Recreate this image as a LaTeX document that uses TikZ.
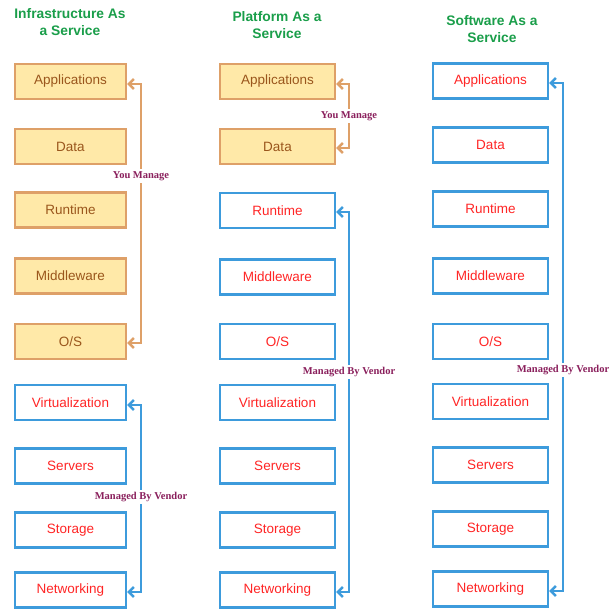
\documentclass[tikz,border=0pt]{standalone}
\usepackage{fontspec}
\setmainfont{Liberation Sans}
\newfontfamily\labelfont{Liberation Serif}
\usetikzlibrary{arrows.meta}
\definecolor{boxfill}{HTML}{FFE9A8}
\definecolor{boxline}{HTML}{DEA068}
\definecolor{boxtext}{HTML}{9A561C}
\definecolor{vblue}{HTML}{3D9BDC}
\definecolor{vred}{HTML}{FF2525}
\definecolor{lblcol}{HTML}{8A1F5C}
\definecolor{ttlgreen}{HTML}{1A9E4A}
\tikzset{
  mine/.style={draw=boxline, fill=boxfill, line width=2.4pt, minimum width=111pt, minimum height=35pt, inner sep=0pt, text=boxtext, font=\fontsize{13.5}{15}\selectfont},
  vend/.style={draw=vblue, fill=white, line width=2.4pt, minimum width=115pt, minimum height=35pt, inner sep=0pt, text=vred, font=\fontsize{13.5}{15}\selectfont},
  ttl/.style={text=ttlgreen, font=\fontsize{13.8}{17}\selectfont\bfseries, align=center},
  lbl/.style={fill=white, text=lblcol, font=\labelfont\fontsize{10.5}{12}\selectfont\bfseries, inner sep=2pt},
  oline/.style={draw=boxline, line width=2.4pt, {Straight Barb[length=5pt,width=10pt]}-{Straight Barb[length=5pt,width=10pt]}},
  bline/.style={draw=vblue, line width=2.4pt, {Straight Barb[length=5pt,width=10pt]}-{Straight Barb[length=5pt,width=10pt]}}
}
\begin{document}
\begin{tikzpicture}[x=1pt,y=-1pt]
\useasboundingbox (0,0) rectangle (616,608);
% titles
\node[ttl] (t1) at (70,22) {Infrastructure As\\a Service};
\node[ttl] (t2) at (277,25) {Platform As a\\Service};
\node[ttl] (t3) at (492,29) {Software As a\\Service};
% column 1
\node[mine, minimum width=111pt] (a1) at (70.5,81.5) {Applications};
\node[mine, minimum width=111pt] (a2) at (70.5,146.5) {Data};
\node[mine, minimum width=111pt] (a3) at (70.5,210) {Runtime};
\node[mine, minimum width=111pt] (a4) at (70.5,276) {Middleware};
\node[mine, minimum width=111pt] (a5) at (70.5,341.5) {O/S};
\node[vend, minimum width=111pt] (a6) at (70.5,402.5) {Virtualization};
\node[vend, minimum width=111pt] (a7) at (70.5,466) {Servers};
\node[vend, minimum width=111pt] (a8) at (70.5,530) {Storage};
\node[vend, minimum width=111pt] (a9) at (70.5,590) {Networking};
% column 2
\node[mine, minimum width=115pt] (b1) at (277.5,81.5) {Applications};
\node[mine, minimum width=115pt] (b2) at (277.5,146.5) {Data};
\node[vend] (b3) at (277.5,210.5) {Runtime};
\node[vend] (b4) at (277.5,277) {Middleware};
\node[vend] (b5) at (277.5,341.5) {O/S};
\node[vend] (b6) at (277.5,402.5) {Virtualization};
\node[vend] (b7) at (277.5,466) {Servers};
\node[vend] (b8) at (277.5,530) {Storage};
\node[vend] (b9) at (277.5,590) {Networking};
% column 3
\node[vend] (c1) at (490.5,81) {Applications};
\node[vend] (c2) at (490.5,145) {Data};
\node[vend] (c3) at (490.5,209) {Runtime};
\node[vend] (c4) at (490.5,276) {Middleware};
\node[vend] (c5) at (490.5,341.5) {O/S};
\node[vend] (c6) at (490.5,401.5) {Virtualization};
\node[vend] (c7) at (490.5,465) {Servers};
\node[vend] (c8) at (490.5,529) {Storage};
\node[vend] (c9) at (490.5,589) {Networking};
% connector corners
\coordinate (p1) at (141,84);
\coordinate (p2) at (141,343);
\coordinate (p3) at (141,405);
\coordinate (p4) at (141,592);
\coordinate (q1) at (349,84);
\coordinate (q2) at (349,148);
\coordinate (q3) at (349,212);
\coordinate (q4) at (349,592);
\coordinate (r1) at (563,83);
\coordinate (r2) at (563,591);
\draw[oline] (a1.east |- p1) -- (p1) -- (p2) -- (a5.east |- p2);
\draw[bline] (a6.east |- p3) -- (p3) -- (p4) -- (a9.east |- p4);
\draw[oline] (b1.east |- q1) -- (q1) -- (q2) -- (b2.east |- q2);
\draw[bline] (b3.east |- q3) -- (q3) -- (q4) -- (b9.east |- q4);
\draw[bline] (c1.east |- r1) -- (r1) -- (r2) -- (c9.east |- r2);
% labels
\node[lbl] (l1) at (141,176) {You Manage};
\node[lbl] (l2) at (141,497) {Managed By Vendor};
\node[lbl] (l3) at (349,116) {You Manage};
\node[lbl] (l4) at (349,372) {Managed By Vendor};
\node[lbl] (l5) at (563,370) {Managed By Vendor};
\end{tikzpicture}
\end{document}
